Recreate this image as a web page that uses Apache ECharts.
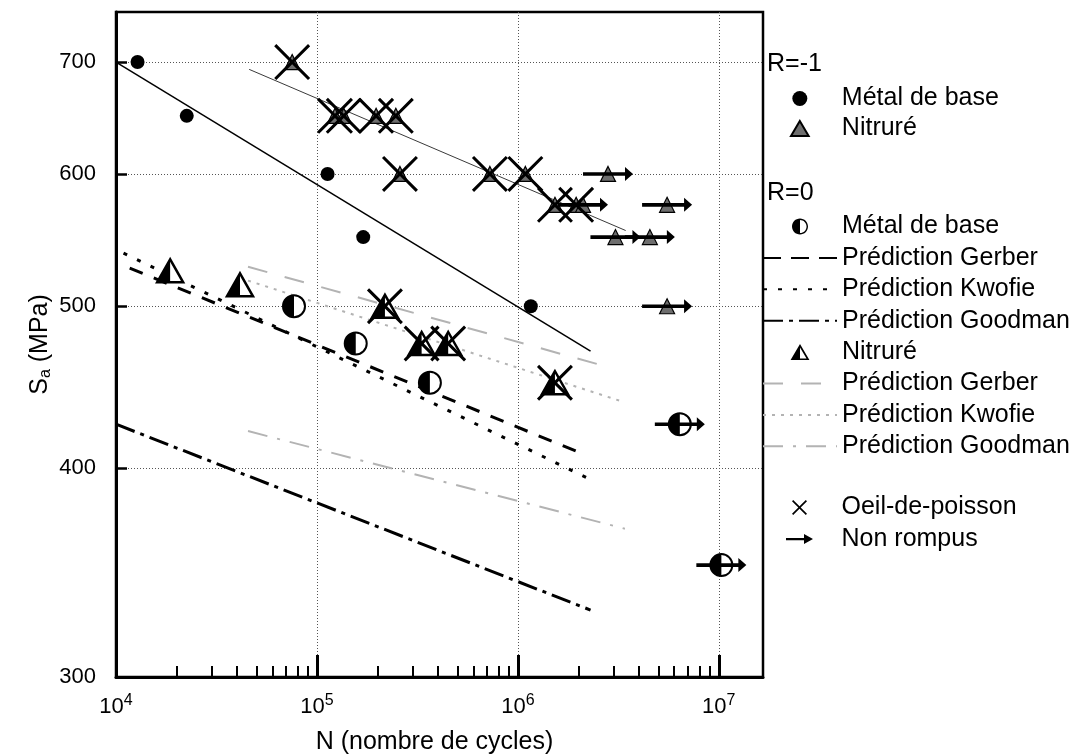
<!DOCTYPE html>
<html>
<head>
<meta charset="utf-8">
<script src="https://cdn.jsdelivr.net/npm/echarts@6/dist/echarts.min.js"></script>
<style>
  html, body { margin: 0; padding: 0; background: #fff; }
  #chart { width: 1086px; height: 756px; }
</style>
</head>
<body>
<div id="chart"></div>
<script>
// S-N fatigue results: [number of cycles N, stress amplitude Sa in MPa]
const baseR1 = [[12800, 700], [22500, 650], [113000, 600], [170000, 550], [1160000, 500]];
const nitR1 = [[75300, 700], [123000, 650], [136000, 650], [197000, 650], [247000, 650],
  [259000, 600], [726000, 600], [1090000, 600], [1530000, 575], [1950000, 575], [2110000, 575],
  [2810000, 600], [5530000, 575], [3060000, 550], [4540000, 550], [5530000, 500]];
const baseR0 = [[76900, 500], [156000, 475], [365000, 450], [6400000, 425], [10300000, 350]];
const nitR0 = [[18600, 525], [41400, 515], [218000, 500], [332000, 475], [450000, 475], [1530000, 450]];
// specimens with a fish-eye initiation
const fishEye = [[75300, 700], [123000, 650], [136000, 650], [197000, 650], [247000, 650],
  [259000, 600], [726000, 600], [1090000, 600], [1530000, 575], [1950000, 575],
  [218000, 500], [332000, 475], [450000, 475], [1530000, 450]];
// run-outs (not broken)
const runOuts = [[2110000, 575], [2810000, 600], [5530000, 575], [3060000, 550], [4540000, 550],
  [5530000, 500], [6400000, 425], [10300000, 350]];

// fitted curve R=-1 and predicted curves R=0 (end points)
const fitBaseR1 = [[10000, 700], [2300000, 470]];
const fitNitR1 = [[46000, 693], [3440000, 555]];
const gerberBase = [[11700, 527], [2000000, 409]];
const kwofieBase = [[10900, 538], [2280000, 394]];
const goodmanBase = [[10000, 425], [2300000, 329]];
const gerberNit = [[45400, 528], [2970000, 459]];
const kwofieNit = [[45400, 518], [3210000, 439]];
const goodmanNit = [[45400, 421], [3410000, 368]];

// axis ticks
const xLabelValues = [1e4, 1e5, 1e6, 1e7];
const xMajorTicks = [1e5, 1e6, 1e7];
const yLabelValues = [300, 400, 500, 600, 700];
const yTicks = [400, 500, 600, 700];
const xMinorTicks = [];
[1e4, 1e5, 1e6].forEach(function (d) { for (let k = 2; k <= 9; k++) xMinorTicks.push(k * d); });

const FONT = 'Liberation Sans, Arial, sans-serif';
const GRAY = '#b3b3b3';

// symbols
const X_PATH = 'path://M0,6 L6,0 L50,44 L94,0 L100,6 L56,50 L100,94 L94,100 L50,56 L6,100 L0,94 L44,50 Z';
const X_ICON = 'path://M0,8 L8,0 L50,42 L92,0 L100,8 L58,50 L100,92 L92,100 L50,58 L8,100 L0,92 L42,50 Z';
const ARROW_PATH = 'path://M0,5.2 L42,5.2 L42,0 L50,7 L42,14 L42,8.8 L0,8.8 Z';
const ARROW_ICON = 'path://M0,0 M27,15 M0,6.3 L18,6.3 L18,2.5 L27,7.5 L18,12.5 L18,8.7 L0,8.7 Z';
const TRIANGLE_ICON = 'path://M10,0 L20,17 L0,17 Z';
const HALF_CIRCLE_ICON = 'path://M10,0 C4.477,0 0,4.477 0,10 C0,15.523 4.477,20 10,20 Z ' +
  'M10,0 C15.523,0 20,4.477 20,10 C20,15.523 15.523,20 10,20 L10,18.2 ' +
  'C14.529,18.2 18.2,14.529 18.2,10 C18.2,5.471 14.529,1.8 10,1.8 Z';
const HALF_TRIANGLE_ICON = 'path://M10,0 L0,17 L10,17 Z M10,0 L20,17 L10,17 L10,15.2 L16.9,15.2 L10,3.7 Z';

function halfCircle(params, api) {
  const p = api.coord([api.value(0), api.value(1)]);
  const r = 11;
  return {
    type: 'group',
    children: [
      { type: 'circle', shape: { cx: p[0], cy: p[1], r: r }, style: { fill: '#fff', stroke: '#000', lineWidth: 2 } },
      { type: 'sector', shape: { cx: p[0], cy: p[1], r0: 0, r: r, startAngle: Math.PI / 2, endAngle: Math.PI * 1.5, clockwise: true },
        style: { fill: '#000' } }
    ]
  };
}

function halfTriangle(params, api) {
  const p = api.coord([api.value(0), api.value(1)]);
  const w = 26, h = 23;
  const top = [p[0], p[1] - h / 2];
  const bl = [p[0] - w / 2, p[1] + h / 2];
  const br = [p[0] + w / 2, p[1] + h / 2];
  const bm = [p[0], p[1] + h / 2];
  return {
    type: 'group',
    children: [
      { type: 'polygon', shape: { points: [top, bl, br] }, style: { fill: '#fff', stroke: '#000', lineWidth: 2.5 } },
      { type: 'polygon', shape: { points: [top, bl, bm] }, style: { fill: '#000' } }
    ]
  };
}

function lineSeries(name, data, style, z) {
  return { name: name, type: 'line', data: data, symbol: 'none', showSymbol: false,
    lineStyle: style, itemStyle: { color: style.color }, z: z || 3, silent: true };
}

// legend entries drawn as a bare line (no marker in the middle)
const lineOnly = { color: 'transparent', borderColor: 'transparent', opacity: 0 };

const legendText = { color: '#000', fontSize: 25, fontFamily: FONT };
const legendBase = {
  orient: 'vertical', left: 762, padding: 0, itemWidth: 74, itemHeight: 15,
  selectedMode: false, textStyle: legendText,
  formatter: function (n) { return n.split('|')[0]; }
};

const chart = echarts.init(document.getElementById('chart'), null, { renderer: 'canvas' });
chart.setOption({
  animation: false,
  backgroundColor: '#fff',
  textStyle: { fontFamily: FONT, color: '#000' },
  grid: {
    left: 116, top: 12, width: 647, height: 665, containLabel: false, outerBoundsMode: 'none',
    show: true, borderColor: '#000', borderWidth: 2.5, backgroundColor: 'transparent'
  },
  xAxis: [
    {
      type: 'log', logBase: 10, min: 1e4, max: 1.66e7, position: 'bottom',
      axisLine: { lineStyle: { color: '#000', width: 3 } },
      axisTick: { inside: true, length: 22, lineStyle: { color: '#000', width: 3 }, customValues: xMajorTicks },
      axisLabel: {
        customValues: xLabelValues, margin: 16, color: '#000',
        formatter: function (v) { return '{b|10}{e|' + Math.round(Math.log10(v)) + '}'; },
        rich: {
          b: { fontSize: 22, fontFamily: FONT, color: '#000', lineHeight: 22, padding: [5, 0, 0, 0] },
          e: { fontSize: 16, fontFamily: FONT, color: '#000', lineHeight: 16, verticalAlign: 'top' }
        }
      },
      splitLine: { show: true, lineStyle: { color: '#555', width: 1, type: [1, 2] } },
      name: 'N (nombre de cycles)', nameLocation: 'middle', nameGap: 53, nameMoveOverlap: false,
      nameTextStyle: { fontSize: 25, fontFamily: FONT, color: '#000', padding: [0, 10, 0, 0] }
    },
    {
      type: 'log', logBase: 10, min: 1e4, max: 1.66e7, position: 'bottom',
      axisLine: { show: false }, axisLabel: { show: false }, splitLine: { show: false },
      axisTick: { inside: true, length: 11, lineStyle: { color: '#000', width: 2 }, customValues: xMinorTicks }
    }
  ],
  yAxis: {
    type: 'log', logBase: 10, min: 300, max: 750,
    axisLine: { lineStyle: { color: '#000', width: 3 } },
    axisTick: { inside: true, length: 11, lineStyle: { color: '#000', width: 2.5 }, customValues: yTicks },
    axisLabel: {
      customValues: yLabelValues, margin: 20, fontSize: 22, color: '#000', fontFamily: FONT,
      formatter: function (v) { return String(Math.round(v)); }
    },
    splitLine: { show: true, lineStyle: { color: '#555', width: 1, type: [1, 2] } },
    name: '{m|S}{s|a}{m| (MPa)}', nameLocation: 'middle', nameGap: 62, nameRotate: 90, nameMoveOverlap: false,
    nameTextStyle: {
      rich: {
        m: { fontSize: 25, fontFamily: FONT, color: '#000', lineHeight: 28 },
        s: { fontSize: 16, fontFamily: FONT, color: '#000', lineHeight: 14, verticalAlign: 'bottom' }
      }
    }
  },
  legend: [
    Object.assign({}, legendBase, {
      top: 86, itemGap: 5, left: 790,
      data: [{ name: 'Métal de base|R-1' }, { name: 'Nitruré|R-1', icon: TRIANGLE_ICON }]
    }),
    Object.assign({}, legendBase, {
      top: 214, itemGap: 6.4, itemHeight: 16,
      data: [
        { name: 'Métal de base|R0', icon: HALF_CIRCLE_ICON },
        { name: 'Prédiction Gerber|R0', lineStyle: { type: [18, 10] }, itemStyle: lineOnly },
        { name: 'Prédiction Kwofie|R0', itemStyle: lineOnly },
        { name: 'Prédiction Goodman|R0', itemStyle: lineOnly },
        { name: 'Nitruré|R0', icon: HALF_TRIANGLE_ICON },
        { name: 'Prédiction Gerber|R0N', itemStyle: lineOnly },
        { name: 'Prédiction Kwofie|R0N', itemStyle: lineOnly },
        { name: 'Prédiction Goodman|R0N', itemStyle: lineOnly }
      ]
    }),
    Object.assign({}, legendBase, {
      top: 495, itemGap: 6.6, left: 786,
      data: [{ name: 'Oeil-de-poisson', icon: X_ICON }, { name: 'Non rompus', icon: ARROW_ICON }]
    })
  ],
  graphic: [
    { type: 'text', left: 767, top: 52, style: { text: 'R=-1', font: '25px ' + FONT, fill: '#000' } },
    { type: 'text', left: 767, top: 181, style: { text: 'R=0', font: '25px ' + FONT, fill: '#000' } }
  ],
  series: [
    lineSeries('fit-base-R1', fitBaseR1, { color: '#000', width: 1.5, type: 'solid' }),
    lineSeries('fit-nit-R1', fitNitR1, { color: '#3a3a3a', width: 1, type: 'solid' }),
    lineSeries('Prédiction Gerber|R0', gerberBase, { color: '#000', width: 3, type: [14, 12] }),
    lineSeries('Prédiction Kwofie|R0', kwofieBase, { color: '#000', width: 3, type: [4, 11] }),
    lineSeries('Prédiction Goodman|R0', goodmanBase, { color: '#000', width: 3, type: [20, 6, 4, 6] }),
    lineSeries('Prédiction Gerber|R0N', gerberNit, { color: GRAY, width: 2, type: [20, 18] }, 2),
    lineSeries('Prédiction Kwofie|R0N', kwofieNit, { color: GRAY, width: 2, type: [3, 6] }, 2),
    lineSeries('Prédiction Goodman|R0N', goodmanNit, { color: GRAY, width: 2, type: [20, 10, 3, 10] }, 2),
    { name: 'Métal de base|R-1', type: 'scatter', data: baseR1, symbol: 'circle', symbolSize: 14,
      itemStyle: { color: '#000', opacity: 1 }, z: 5, silent: true },
    { name: 'Nitruré|R-1', type: 'scatter', data: nitR1, symbol: 'triangle', symbolSize: 15,
      itemStyle: { color: '#6e6e6e', borderColor: '#000', borderWidth: 1.2, opacity: 1 }, z: 5, silent: true },
    { name: 'Métal de base|R0', type: 'custom', data: baseR0, renderItem: halfCircle,
      encode: { x: 0, y: 1 }, itemStyle: { color: '#000' }, z: 5, silent: true },
    { name: 'Nitruré|R0', type: 'custom', data: nitR0, renderItem: halfTriangle,
      encode: { x: 0, y: 1 }, itemStyle: { color: '#000' }, z: 5, silent: true },
    { name: 'Oeil-de-poisson', type: 'scatter', data: fishEye, symbol: X_PATH, symbolSize: 36,
      itemStyle: { color: '#000', opacity: 1 }, z: 6, silent: true },
    { name: 'Non rompus', type: 'scatter', data: runOuts, symbol: ARROW_PATH, symbolSize: [50, 14],
      itemStyle: { color: '#000', opacity: 1 }, z: 7, silent: true }
  ]
});
</script>
</body>
</html>
